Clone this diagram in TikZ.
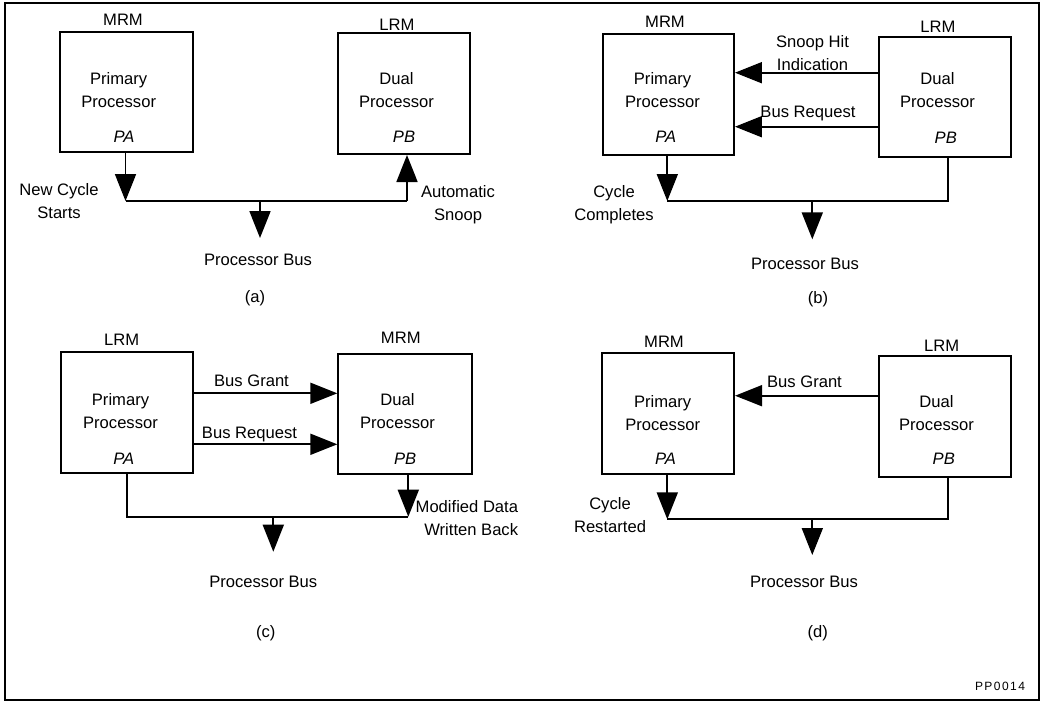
\documentclass[tikz,border=0pt]{standalone}
\usepackage{fontspec}
\setmainfont{Liberation Sans}
\newfontfamily\codefont{Liberation Sans}[LetterSpace=12]
\usetikzlibrary{arrows.meta}
\tikzset{
  every node/.style={font=\fontsize{16.6}{23}\selectfont, inner sep=0pt},
  lbl/.style={align=center},
  box/.style={draw, line width=2pt, inner sep=0pt},
  wire/.style={line width=1.8pt},
  arr/.style={wire, -{Triangle[length=27pt, width=21pt]}},
}
\begin{document}
\begin{tikzpicture}[x=1pt, y=-1pt]
\useasboundingbox (0,0) rectangle (1044,702);
\draw[line width=2pt] (5,3) rectangle (1039,700);

% ---------------- (a)
\node[box, minimum width=133, minimum height=119.5] (pa-a) at (126.5,91.75) {};
\node[box, minimum width=132, minimum height=121] (pb-a) at (404,93.5) {};
\node (mrm-a) at (123,19.5) {MRM};
\node (lrm-a) at (397,24.5) {LRM};
\node[lbl] (pat-a) at (118.7,90) {Primary\\Processor};
\node (pai-a) at (124,137) {\itshape PA};
\node[lbl] (pbt-a) at (396.5,90) {Dual\\Processor};
\node (pbi-a) at (404,137) {\itshape PB};
\node[lbl] (ncs-a) at (59,201.5) {New Cycle\\Starts};
\node[lbl] (as-a) at (458,204.4) {Automatic\\Snoop};
\node (bus-a) at (258,260) {Processor Bus};
\node (cap-a) at (255,298) {(a)};
\coordinate (a-l) at (125.5,201);
\coordinate (a-r) at (407,201);
\coordinate (a-m) at (260,201);
\coordinate (a-t) at (260,238);
\draw[arr] (a-l |- pa-a.south) -- (a-l);
\draw[wire] (a-l) -- (a-r);
\draw[arr] (a-r) -- (a-r |- pb-a.south);
\draw[arr] (a-m) -- (a-t);

% ---------------- (b)
\node[box, minimum width=131.3, minimum height=121] (pa-b) at (668.3,94.5) {};
\node[box, minimum width=132, minimum height=120] (pb-b) at (945,96.7) {};
\node (mrm-b) at (665,21.5) {MRM};
\node (lrm-b) at (938,26.7) {LRM};
\node[lbl] (pat-b) at (662.5,90) {Primary\\Processor};
\node (pai-b) at (665.7,136.3) {\itshape PA};
\node[lbl] (pbt-b) at (937.5,90) {Dual\\Processor};
\node (pbi-b) at (945.8,137.5) {\itshape PB};
\node[lbl] (shi-b) at (812.5,53) {Snoop Hit\\Indication};
\node (br-b) at (808,114) {Bus Request};
\node[lbl] (cc-b) at (614,205) {Cycle\\Completes};
\node (bus-b) at (805,264) {Processor Bus};
\node (cap-b) at (818,299) {(b)};
\coordinate (b-s) at (0,72.7);
\coordinate (b-q) at (0,126.7);
\coordinate (b-l) at (667.3,201);
\coordinate (b-r) at (947.7,201);
\coordinate (b-m) at (812.3,201);
\coordinate (b-t) at (812.3,239.3);
\draw[arr] (pb-b.west |- b-s) -- (pa-b.east |- b-s);
\draw[arr] (pb-b.west |- b-q) -- (pa-b.east |- b-q);
\draw[arr] (b-l |- pa-b.south) -- (b-l);
\draw[wire] (b-l) -- (b-r) -- (b-r |- pb-b.south);
\draw[arr] (b-m) -- (b-t);

% ---------------- (c)
\node[box, minimum width=132.6, minimum height=120.4] (pa-c) at (127,412.5) {};
\node[box, minimum width=133.4, minimum height=120] (pb-c) at (405,414.3) {};
\node (lrm-c) at (121.7,340) {LRM};
\node (mrm-c) at (400.8,337.5) {MRM};
\node[lbl] (pat-c) at (120.5,411.3) {Primary\\Processor};
\node (pai-c) at (123.8,459) {\itshape PA};
\node[lbl] (pbt-c) at (397.5,411.3) {Dual\\Processor};
\node (pbi-c) at (405.2,459) {\itshape PB};
\node (bg-c) at (251.5,380.3) {Bus Grant};
\node (br-c) at (249.5,434.9) {Bus Request};
\node[align=right, anchor=east] (mdw-c) at (518.3,518.3) {Modified Data\\Written Back};
\node (bus-c) at (263.3,581.7) {Processor Bus};
\node (cap-c) at (265.8,633.3) {(c)};
\coordinate (c-g) at (0,393.3);
\coordinate (c-q) at (0,444.3);
\coordinate (c-l) at (127.3,516.7);
\coordinate (c-r) at (408.3,516.7);
\coordinate (c-m) at (273.3,516.7);
\coordinate (c-t) at (273.3,551.7);
\draw[arr] (pa-c.east |- c-g) -- (pb-c.west |- c-g);
\draw[arr] (pa-c.east |- c-q) -- (pb-c.west |- c-q);
\draw[wire] (c-l |- pa-c.south) -- (c-l) -- (c-r);
\draw[arr] (c-r |- pb-c.south) -- (c-r);
\draw[arr] (c-m) -- (c-t);

% ---------------- (d)
\node[box, minimum width=131.7, minimum height=120.7] (pa-d) at (668.2,413.7) {};
\node[box, minimum width=132, minimum height=120.7] (pb-d) at (945,416.3) {};
\node (mrm-d) at (664,342) {MRM};
\node (lrm-d) at (941.7,345.5) {LRM};
\node[lbl] (pat-d) at (662.7,412.8) {Primary\\Processor};
\node (pai-d) at (665.5,459) {\itshape PA};
\node[lbl] (pbt-d) at (936.5,412.8) {Dual\\Processor};
\node (pbi-d) at (943.8,458.3) {\itshape PB};
\node (bg-d) at (804.5,381.7) {Bus Grant};
\node[lbl] (cr-d) at (610,515) {Cycle\\Restarted};
\node (bus-d) at (804,582) {Processor Bus};
\node (cap-d) at (817.8,633) {(d)};
\coordinate (d-g) at (0,395.7);
\coordinate (d-l) at (667.3,519.3);
\coordinate (d-r) at (947.7,519.3);
\coordinate (d-m) at (812.3,519.3);
\coordinate (d-t) at (812.3,555);
\draw[arr] (pb-d.west |- d-g) -- (pa-d.east |- d-g);
\draw[arr] (d-l |- pa-d.south) -- (d-l);
\draw[wire] (d-l) -- (d-r) -- (d-r |- pb-d.south);
\draw[arr] (d-m) -- (d-t);

\node[font=\codefont\fontsize{12}{14}\selectfont] (code) at (1000,686) {PP0014};
\end{tikzpicture}
\end{document}
